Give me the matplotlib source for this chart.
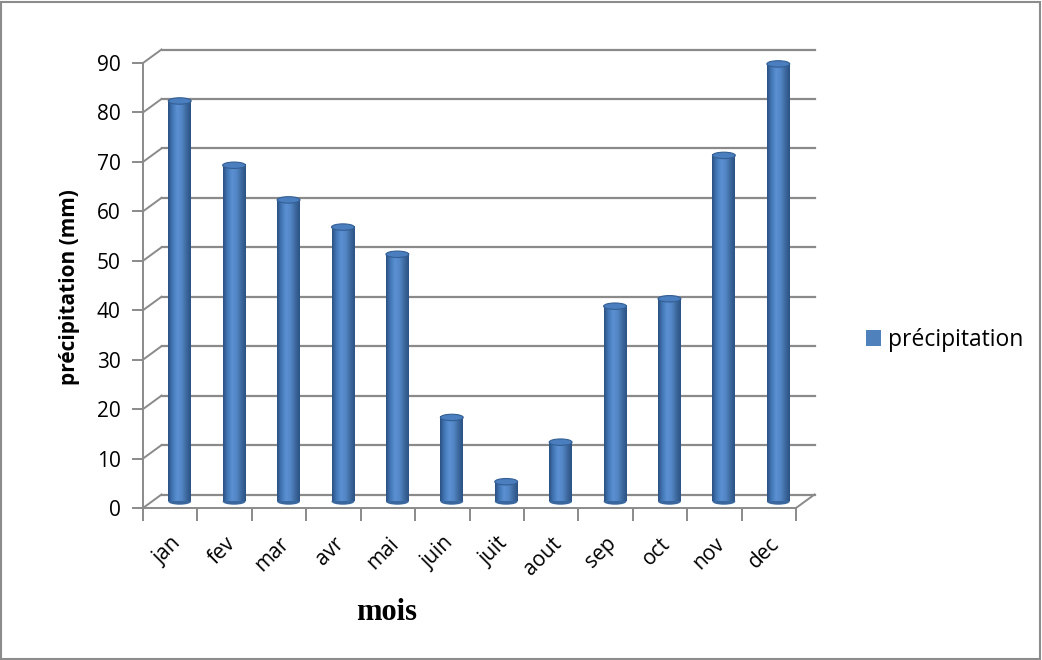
import matplotlib.pyplot as plt
import matplotlib.transforms as mtransforms
from matplotlib.colors import LinearSegmentedColormap
from matplotlib.patches import Ellipse, Patch, Rectangle
import numpy as np

# données
mois = ["jan", "fev", "mar", "avr", "mai", "juin", "juit", "aout", "sep", "oct", "nov", "dec"]
precipitation = [81, 68, 61, 55.5, 50, 17, 4, 12, 39.5, 41, 70, 88.5]
y_ticks = list(range(0, 100, 10))

bar_width = 0.42
gray = "#8a8a8a"
blue = "#4f81bd"
police = ["Open Sans", "DejaVu Sans"]

fig = plt.figure(figsize=(10.42, 6.6), dpi=100)
fig.patches.append(Rectangle((0.001, 0.002), 0.997, 0.995, transform=fig.transFigure,
                             fill=False, edgecolor="#8c8c8c", linewidth=1.5))

ax = fig.add_axes([143 / 1042, 1 - 508 / 660, (796 - 143) / 1042, (508 - 63) / 660])
ax.set_xlim(0, len(mois))
ax.set_ylim(0, 90)
ax.set_facecolor("none")

# décalages de profondeur (pseudo 3D)
back = ax.transData + mtransforms.ScaledTranslation(0.185, 0.135, fig.dpi_scale_trans)
mid = ax.transData + mtransforms.ScaledTranslation(0.095, 0.065, fig.dpi_scale_trans)

# mur du fond et lignes de la grille
for v in y_ticks:
    ax.plot([0, len(mois)], [v, v], color=gray, lw=1.6, transform=back, clip_on=False, zorder=1)
    x0, y0 = ax.transData.transform((0, v))
    x1, y1 = back.transform((0, v))
    ax.plot([x0, x1], [y0, y1], color=gray, lw=1.4, transform=None, clip_on=False, zorder=1)
# plancher côté droit
x0, y0 = ax.transData.transform((len(mois), 0))
x1, y1 = back.transform((len(mois), 0))
ax.plot([x0, x1], [y0, y1], color=gray, lw=1.4, transform=None, clip_on=False, zorder=1)

# cylindres
cmap = LinearSegmentedColormap.from_list(
    "cyl", ["#2b5182", "#4479b8", "#5b90d3", "#5486c6", "#3d6a9f", "#2c5284"])
grad = np.linspace(0, 1, 64).reshape(1, -1)
for i, v in enumerate(precipitation):
    xc = i + 0.5
    bottom = Ellipse((xc, 0), bar_width, 1.3, facecolor="#3a679e", edgecolor="none",
                     transform=mid, clip_on=False, zorder=2)
    ax.add_patch(bottom)
    im = ax.imshow(grad, cmap=cmap, aspect="auto", interpolation="bicubic",
                   extent=[xc - bar_width / 2, xc + bar_width / 2, 0, v], zorder=3)
    im.set_transform(mid)
    im.set_clip_on(False)
    top = Ellipse((xc, v), bar_width, 1.3, facecolor="#4a7ebe", edgecolor="#335f94",
                  lw=0.8, transform=mid, clip_on=False, zorder=4)
    ax.add_patch(top)

ax.set_xlim(0, len(mois))
ax.set_ylim(0, 90)

# axes
for s in ["top", "right"]:
    ax.spines[s].set_visible(False)
for s in ["left", "bottom"]:
    ax.spines[s].set_color(gray)
    ax.spines[s].set_linewidth(1.4)
    ax.spines[s].set_zorder(1)

ax.set_yticks(y_ticks)
ax.tick_params(axis="y", length=8, width=1.4, color=gray, pad=8, labelsize=15)
ax.set_xticks(np.arange(len(mois)) + 0.5)
ax.set_xticklabels(mois, rotation=45, ha="right", rotation_mode="anchor", fontsize=15)
ax.set_xticks(np.arange(len(mois) + 1), minor=True)
ax.tick_params(axis="x", which="major", length=0, pad=18)
ax.tick_params(axis="x", which="minor", length=9, width=1.4, color=gray)
for lab in ax.get_xticklabels() + ax.get_yticklabels():
    lab.set_family(police)
for lab in ax.get_xticklabels():
    lab.set_transform(lab.get_transform() + mtransforms.ScaledTranslation(0.0, 0, fig.dpi_scale_trans))

fig.text(70 / 1042, 1 - 287 / 660, "précipitation (mm)", rotation=90, ha="center", va="center",
         fontsize=15, fontweight="bold", family=police)
fig.text(387 / 1042, 1 - 613 / 660, "mois", ha="center", va="center",
         fontsize=22, fontweight="bold", family="Liberation Serif")

ax.legend(handles=[Patch(facecolor=blue, edgecolor="none", label="précipitation")],
          loc="center left", bbox_to_anchor=(866 / 1042, 1 - 340 / 660),
          bbox_transform=fig.transFigure, frameon=False, handlelength=0.65,
          handleheight=0.65, handletextpad=0.3, borderaxespad=0, borderpad=0,
          prop={"family": police, "size": 16.5})

fig.savefig("out.png", dpi=100)
